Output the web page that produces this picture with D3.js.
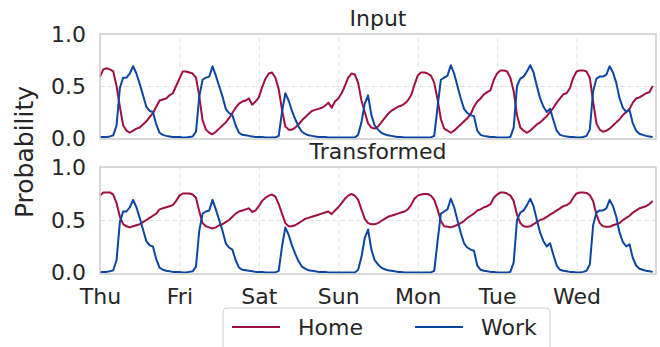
<!DOCTYPE html>
<html>
<head>
<meta charset="utf-8">
<script src="https://cdnjs.cloudflare.com/ajax/libs/d3/7.8.5/d3.min.js"></script>
<style>
  * { margin: 0; padding: 0; }
  body { background: #fff; }
  svg text { font-family: 'DejaVu Sans', sans-serif; fill: #262626; }
  .grid line { stroke: #e3e3e3; stroke-width: 1; stroke-dasharray: 5,3; }
  .frame { fill: none; stroke: #cccccc; stroke-width: 1.5; }
</style>
</head>
<body>
<div id="chart"></div>
<script>
// x axis labels, one per day (hourly data, 24 values a day)
const days = ['Thu', 'Fri', 'Sat', 'Sun', 'Mon', 'Tue', 'Wed'];
const yTicks = [0, 0.5, 1];

// Input panel
const homeInput = [
  0.59,0.66,0.67,0.66,0.64,0.50,0.30,0.12,0.07,0.05,0.07,0.09,0.10,0.13,0.16,0.20,0.24,0.30,0.36,0.37,0.38,0.41,0.43,0.50, // Thu
  0.57,0.64,0.64,0.63,0.62,0.58,0.40,0.17,0.08,0.05,0.035,0.06,0.09,0.12,0.15,0.19,0.24,0.29,0.33,0.35,0.36,0.38,0.32,0.35, // Fri
  0.39,0.49,0.57,0.62,0.63,0.58,0.47,0.27,0.11,0.08,0.08,0.10,0.13,0.17,0.20,0.23,0.26,0.27,0.28,0.29,0.31,0.34,0.29,0.35, // Sat
  0.38,0.43,0.50,0.58,0.62,0.61,0.53,0.36,0.25,0.14,0.10,0.09,0.11,0.15,0.19,0.23,0.26,0.28,0.30,0.31,0.33,0.36,0.41,0.51, // Sun
  0.60,0.63,0.63,0.62,0.60,0.53,0.37,0.18,0.09,0.07,0.05,0.07,0.10,0.13,0.16,0.19,0.23,0.30,0.35,0.38,0.42,0.44,0.46,0.56, // Mon
  0.62,0.65,0.65,0.64,0.58,0.45,0.22,0.10,0.07,0.05,0.07,0.10,0.13,0.15,0.18,0.21,0.25,0.29,0.34,0.38,0.42,0.43,0.48,0.58, // Tue
  0.64,0.65,0.65,0.64,0.58,0.35,0.14,0.08,0.06,0.07,0.09,0.12,0.15,0.18,0.22,0.25,0.28,0.34,0.38,0.39,0.41,0.43,0.44,0.50  // Wed
];
const workInput = [
  0.01,0.01,0.01,0.015,0.025,0.12,0.48,0.58,0.58,0.62,0.69,0.62,0.52,0.41,0.30,0.26,0.25,0.13,0.05,0.03,0.02,0.015,0.01,0.01,
  0.01,0.005,0.005,0.01,0.015,0.06,0.40,0.56,0.58,0.59,0.69,0.60,0.50,0.40,0.28,0.24,0.22,0.12,0.05,0.03,0.025,0.02,0.015,0.01,
  0.01,0.01,0.005,0.005,0.005,0.005,0.02,0.25,0.43,0.36,0.26,0.18,0.11,0.06,0.04,0.025,0.02,0.015,0.01,0.01,0.01,0.005,0.005,0.005,
  0.005,0.005,0.005,0.005,0.005,0.005,0.03,0.15,0.33,0.41,0.22,0.12,0.08,0.05,0.035,0.025,0.02,0.015,0.01,0.01,0.005,0.005,0.005,0.005,
  0.005,0.005,0.005,0.005,0.005,0.02,0.30,0.56,0.58,0.60,0.70,0.62,0.50,0.38,0.28,0.24,0.22,0.21,0.07,0.03,0.02,0.015,0.01,0.01,
  0.005,0.005,0.005,0.005,0.01,0.10,0.50,0.57,0.59,0.64,0.70,0.63,0.50,0.38,0.30,0.25,0.28,0.17,0.07,0.03,0.02,0.015,0.01,0.01,
  0.005,0.005,0.01,0.02,0.08,0.45,0.57,0.59,0.59,0.61,0.69,0.63,0.53,0.38,0.29,0.25,0.27,0.14,0.07,0.04,0.03,0.02,0.015,0.01
];

// Transformed panel
const homeTransformed = [
  0.73,0.76,0.76,0.76,0.74,0.66,0.53,0.46,0.44,0.43,0.44,0.45,0.46,0.48,0.50,0.52,0.54,0.56,0.60,0.61,0.62,0.63,0.64,0.68,
  0.73,0.75,0.75,0.75,0.74,0.71,0.58,0.47,0.44,0.43,0.42,0.43,0.45,0.46,0.48,0.50,0.53,0.56,0.58,0.59,0.60,0.61,0.575,0.59,
  0.63,0.68,0.71,0.73,0.74,0.72,0.65,0.56,0.47,0.44,0.44,0.45,0.47,0.49,0.51,0.52,0.53,0.54,0.55,0.56,0.57,0.58,0.555,0.59,
  0.62,0.66,0.70,0.73,0.745,0.73,0.69,0.60,0.51,0.47,0.46,0.46,0.47,0.49,0.51,0.53,0.54,0.55,0.56,0.57,0.58,0.60,0.64,0.70,
  0.73,0.74,0.745,0.745,0.73,0.69,0.60,0.49,0.44,0.435,0.43,0.44,0.455,0.47,0.49,0.52,0.54,0.56,0.59,0.60,0.62,0.63,0.65,0.71,
  0.74,0.76,0.76,0.75,0.73,0.68,0.55,0.47,0.44,0.435,0.44,0.46,0.48,0.50,0.51,0.53,0.55,0.57,0.59,0.61,0.63,0.64,0.66,0.71,
  0.75,0.76,0.76,0.755,0.735,0.68,0.55,0.47,0.44,0.435,0.435,0.45,0.46,0.47,0.50,0.52,0.54,0.57,0.59,0.61,0.62,0.63,0.65,0.68
];
// work curve is unchanged by the transform
const workTransformed = workInput;

const colors = { Home: '#a0103f', Work: '#0c46a0' };

const W = 660, H = 347;
const left = 100, right = 656;

const svg = d3.select('#chart').append('svg')
  .attr('width', W).attr('height', H);

const x = d3.scaleLinear().domain([0, 168]).range([left, right]);

function panel(title, top, bottom, home, work, showDays) {
  const y = d3.scaleLinear().domain([-0.01, 1]).range([bottom, top]);
  const g = svg.append('g');

  // dashed grid
  g.append('g').attr('class', 'grid')
    .attr('transform', 'translate(0,' + bottom + ')')
    .call(d3.axisBottom(x).tickValues(d3.range(24, 168, 24)).tickSize(-(bottom - top)).tickFormat(''))
    .call(s => s.select('.domain').remove());
  g.append('g').attr('class', 'grid')
    .attr('transform', 'translate(' + left + ',0)')
    .call(d3.axisLeft(y).tickValues([0.5]).tickSize(-(right - left)).tickFormat(''))
    .call(s => s.select('.domain').remove());

  const line = d3.line().x((d, i) => x(i)).y(d => y(d));
  g.append('path').datum(home)
    .attr('fill', 'none').attr('stroke', colors.Home).attr('stroke-width', 2)
    .attr('stroke-linejoin', 'round').attr('d', line);
  g.append('path').datum(work)
    .attr('fill', 'none').attr('stroke', colors.Work).attr('stroke-width', 2)
    .attr('stroke-linejoin', 'round').attr('d', line);

  g.append('rect').attr('class', 'frame')
    .attr('x', left).attr('y', top).attr('width', right - left).attr('height', bottom - top);

  // y ticks
  g.append('g')
    .attr('transform', 'translate(' + left + ',0)')
    .call(d3.axisLeft(y).tickValues(yTicks).tickSize(0).tickPadding(14).tickFormat(d3.format('.1f')))
    .call(s => s.select('.domain').remove())
    .selectAll('text').attr('font-size', 22).attr('font-family', null);

  if (showDays) {
    g.append('g')
      .attr('transform', 'translate(0,' + bottom + ')')
      .call(d3.axisBottom(x).tickValues(d3.range(0, 168, 24)).tickSize(0).tickPadding(14)
        .tickFormat((d, i) => days[i]))
      .call(s => s.select('.domain').remove())
      .selectAll('text').attr('font-size', 22).attr('font-family', null);
  }

  g.append('text').attr('x', (left + right) / 2).attr('y', top - 8)
    .attr('text-anchor', 'middle').attr('font-size', 22).text(title);
}

panel('Input', 34, 139, homeInput, workInput, false);
panel('Transformed', 167, 274, homeTransformed, workTransformed, true);

svg.append('text')
  .attr('transform', 'translate(33,152) rotate(-90)')
  .attr('text-anchor', 'middle').attr('font-size', 25).text('Probability');

// legend
const lg = svg.append('g');
lg.append('rect').attr('x', 223).attr('y', 308).attr('width', 327).attr('height', 60)
  .attr('rx', 4).attr('fill', '#fff').attr('stroke', '#d0d0d0').attr('stroke-width', 1);
const items = [{ name: 'Home', x: 232 }, { name: 'Work', x: 415 }];
items.forEach(it => {
  lg.append('line').attr('x1', it.x).attr('x2', it.x + 48).attr('y1', 327).attr('y2', 327)
    .attr('stroke', colors[it.name]).attr('stroke-width', 2);
  lg.append('text').attr('x', it.x + 66).attr('y', 335).attr('font-size', 22).text(it.name);
});
</script>
</body>
</html>
